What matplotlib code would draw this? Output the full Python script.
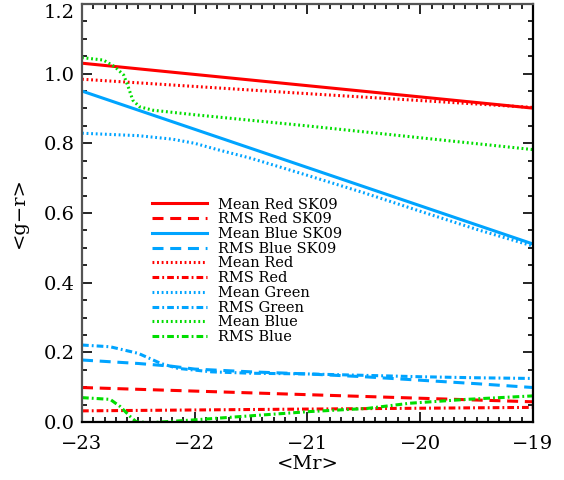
import matplotlib
matplotlib.use("Agg")
import matplotlib.pyplot as plt
from matplotlib.ticker import MultipleLocator

RED = "#ff0000"
BLUE = "#00a4ff"
GREEN = "#00dd00"

# SK09 curves (straight lines)
x_sk = [-23.0, -19.0]
mean_red_sk09 = [1.030, 0.901]
rms_red_sk09 = [0.099, 0.058]
mean_blue_sk09 = [0.950, 0.511]

x_rms_blue_sk09 = [-23.0, -22.5, -22.2, -22.0, -21.5, -21.0, -20.5, -20.0, -19.5, -19.0]
rms_blue_sk09 = [0.178, 0.168, 0.160, 0.152, 0.144, 0.138, 0.130, 0.120, 0.110, 0.099]

# red population
x_red = [-23.0, -21.07, -19.0]
mean_red = [0.984, 0.944, 0.903]
rms_red = [0.032, 0.037, 0.042]

# green population
x_mean_green = [-23.0, -22.5, -22.2, -22.0, -21.8, -21.5, -21.0, -20.5, -20.0, -19.5, -19.0]
mean_green = [0.829, 0.822, 0.812, 0.800, 0.782, 0.757, 0.708, 0.658, 0.605, 0.553, 0.505]
x_rms_green = [-23.0, -22.75, -22.5, -22.3, -22.15, -21.85, -21.5, -21.0, -20.5, -20.0, -19.5, -19.0]
rms_green = [0.221, 0.216, 0.197, 0.168, 0.154, 0.144, 0.140, 0.138, 0.134, 0.130, 0.127, 0.125]

# blue population
x_mean_blue = [-23.0, -22.81, -22.71, -22.63, -22.59, -22.55, -22.49, -22.37, -22.0, -21.0, -20.0, -19.0]
mean_blue = [1.046, 1.039, 1.020, 0.996, 0.962, 0.924, 0.905, 0.895, 0.882, 0.850, 0.816, 0.782]
x_rms_blue = [-23.0, -22.75, -22.66, -22.57, -22.52, -22.40, -22.01, -20.98, -20.47, -20.09, -19.59, -19.0]
rms_blue = [0.070, 0.065, 0.044, 0.015, 0.001, -0.002, 0.006, 0.030, 0.039, 0.054, 0.065, 0.075]

x_ticks = [-23, -22, -21, -20, -19]
x_ticklabels = ["\u221223", "\u221222", "\u221221", "\u221220", "\u221219"]
y_ticks = [0.0, 0.2, 0.4, 0.6, 0.8, 1.0, 1.2]
y_ticklabels = ["0.0", "0.2", "0.4", "0.6", "0.8", "1.0", "1.2"]

plt.rcParams["font.family"] = "DejaVu Serif"

fig = plt.figure(figsize=(5.64, 4.8), dpi=100)
ax = fig.add_axes([0.1454, 0.1208, 0.7996, 0.8709])

lw = 2.2
dash = (0, (3.6, 2.2))
dashdot = (0, (2.2, 1.0, 0.6, 1.0))
dot = (0, (0.6, 0.9))

ax.plot(x_sk, mean_red_sk09, color=RED, lw=lw, ls="-", label="Mean Red SK09")
ax.plot(x_sk, rms_red_sk09, color=RED, lw=lw, ls=dash, label="RMS Red SK09")
ax.plot(x_sk, mean_blue_sk09, color=BLUE, lw=lw, ls="-", label="Mean Blue SK09")
ax.plot(x_rms_blue_sk09, rms_blue_sk09, color=BLUE, lw=lw, ls=dash, label="RMS Blue SK09")
ax.plot(x_red, mean_red, color=RED, lw=lw, ls=dot, label="Mean Red")
ax.plot(x_red, rms_red, color=RED, lw=lw, ls=dashdot, label="RMS Red")
ax.plot(x_mean_green, mean_green, color=BLUE, lw=lw, ls=dot, label="Mean Green")
ax.plot(x_rms_green, rms_green, color=BLUE, lw=lw, ls=dashdot, label="RMS Green")
ax.plot(x_mean_blue, mean_blue, color=GREEN, lw=lw, ls=dot, label="Mean Blue")
ax.plot(x_rms_blue, rms_blue, color=GREEN, lw=lw, ls=dashdot, label="RMS Blue")

ax.set_xlim(-23, -19)
ax.set_ylim(0, 1.2)
ax.set_xticks(x_ticks, x_ticklabels)
ax.set_yticks(y_ticks, y_ticklabels)
ax.xaxis.set_minor_locator(MultipleLocator(0.1))
ax.yaxis.set_minor_locator(MultipleLocator(0.05))
ax.tick_params(which="both", direction="in", top=True, right=True, labelsize=14, width=1.2)
ax.tick_params(which="major", length=7)
ax.tick_params(which="minor", length=3.5)
ax.tick_params(axis="x", pad=9)
ax.tick_params(axis="y", pad=5)

# top y label hangs below its tick, as in the original
ax.get_yticklabels()[-1].set_verticalalignment("top")

for side in ["left", "top"]:
    ax.spines[side].set_color("#555555")
    ax.spines[side].set_linewidth(1.6)
for side in ["right", "bottom"]:
    ax.spines[side].set_color("black")
    ax.spines[side].set_linewidth(1.6)

ax.set_xlabel("<Mr>", fontsize=14, labelpad=2)
ax.set_ylabel("<g\u2212r>", fontsize=14, labelpad=12)

ax.legend(loc="upper left", bbox_to_anchor=(0.155, 0.537), frameon=False,
          fontsize=10.5, handlelength=3.8, handletextpad=0.7, labelspacing=0.05,
          borderpad=0, borderaxespad=0)

fig.savefig("out.png", dpi=100)
